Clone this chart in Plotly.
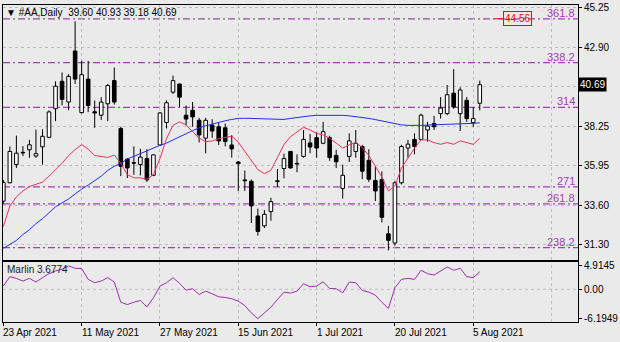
import plotly.graph_objects as go

# ---------------- data ----------------
dates = ["2021-04-23","2021-04-26","2021-04-27","2021-04-28","2021-04-29","2021-04-30",
         "2021-05-03","2021-05-04","2021-05-05","2021-05-06","2021-05-07","2021-05-10","2021-05-11",
         "2021-05-12","2021-05-13","2021-05-14","2021-05-17","2021-05-18","2021-05-19","2021-05-20",
         "2021-05-21","2021-05-24","2021-05-25","2021-05-26","2021-05-27","2021-05-28","2021-06-01",
         "2021-06-02","2021-06-03","2021-06-04","2021-06-07","2021-06-08","2021-06-09","2021-06-10",
         "2021-06-11","2021-06-14","2021-06-15","2021-06-16","2021-06-17","2021-06-18","2021-06-21",
         "2021-06-22","2021-06-23","2021-06-24","2021-06-25","2021-06-28","2021-06-29","2021-06-30",
         "2021-07-01","2021-07-02","2021-07-06","2021-07-07","2021-07-08","2021-07-09","2021-07-12",
         "2021-07-13","2021-07-14","2021-07-15","2021-07-16","2021-07-19","2021-07-20","2021-07-21",
         "2021-07-22","2021-07-23","2021-07-26","2021-07-27","2021-07-28","2021-07-29","2021-07-30",
         "2021-08-02","2021-08-03","2021-08-04","2021-08-05","2021-08-06"]

opens = [33.85, 34.93, 36.00, 36.72, 36.87, 36.50, 37.04, 37.60, 39.28, 40.89,
         39.67, 42.67, 39.05, 41.02, 39.10, 38.90, 39.57, 40.93, 38.12, 36.32,
         36.10, 36.00, 36.35, 35.37, 37.15, 38.47, 40.25, 40.73, 38.90, 39.19,
         38.60, 37.55, 38.32, 38.22, 38.16, 37.15, 36.15, 35.10, 35.02, 32.98,
         32.40, 33.24, 35.00, 35.77, 36.77, 36.03, 36.48, 37.27, 37.58, 37.25,
         37.58, 36.54, 34.60, 36.48, 36.77, 37.06, 36.25, 35.07, 35.12, 31.93,
         31.39, 34.93, 36.97, 37.48, 37.48, 38.03, 38.41, 38.99, 38.99, 40.19,
         38.99, 39.77, 38.47, 39.60]
highs = [35.10, 37.06, 37.70, 37.08, 37.45, 38.05, 38.08, 39.18, 40.89, 41.41,
         41.31, 44.41, 42.09, 42.09, 39.76, 39.96, 40.73, 41.70, 38.22, 36.37,
         37.06, 36.93, 36.90, 36.60, 39.09, 39.77, 41.22, 40.75, 39.47, 39.67,
         38.74, 38.74, 38.66, 38.45, 38.41, 37.73, 36.20, 35.65, 35.12, 33.41,
         33.33, 34.05, 35.74, 36.64, 36.80, 36.60, 38.03, 37.80, 37.89, 38.51,
         37.69, 36.87, 36.00, 37.83, 38.03, 37.16, 36.90, 35.89, 35.60, 32.40,
         35.02, 37.16, 37.45, 37.83, 38.99, 38.51, 38.86, 39.96, 40.67, 41.60,
         40.54, 39.96, 39.38, 40.93]
lows = [33.70, 34.90, 35.80, 36.50, 36.40, 36.40, 35.99, 37.55, 38.55, 39.48,
        39.19, 40.73, 39.00, 39.08, 38.16, 38.62, 38.55, 39.52, 35.32, 35.21,
        35.40, 35.36, 34.98, 35.32, 37.10, 38.12, 40.15, 39.38, 38.30, 38.22,
        37.30, 36.66, 37.57, 37.15, 37.07, 36.41, 34.45, 34.45, 32.57, 31.82,
        32.27, 32.70, 34.69, 35.19, 35.77, 35.55, 36.40, 36.66, 36.40, 37.20,
        36.22, 35.80, 34.00, 36.15, 36.40, 35.14, 34.98, 33.86, 32.60, 30.96,
        31.25, 34.83, 36.40, 36.60, 37.45, 37.35, 38.03, 38.70, 38.90, 39.28,
        37.97, 38.51, 38.22, 39.18]
closes = [34.95, 36.77, 36.67, 36.68, 37.16, 36.64, 37.66, 39.09, 40.60, 39.83,
          41.18, 41.02, 41.28, 39.47, 39.03, 39.67, 40.64, 39.67, 35.90, 35.80,
          36.08, 36.44, 35.10, 36.57, 39.03, 39.63, 40.93, 39.96, 38.67, 38.80,
          37.74, 38.60, 37.97, 37.39, 37.35, 36.92, 36.05, 35.05, 33.57, 32.07,
          33.08, 33.82, 35.05, 36.35, 35.80, 36.07, 37.48, 37.03, 36.97, 37.93,
          36.41, 36.16, 35.37, 37.39, 37.25, 35.61, 35.14, 34.45, 32.90, 31.55,
          34.93, 37.06, 37.20, 37.06, 38.90, 38.26, 38.22, 39.32, 40.10, 39.38,
          40.38, 38.70, 38.70, 40.69]

ma_red = [32.36, 33.57, 34.10, 34.45, 34.71, 34.82, 34.97, 35.32, 35.69, 36.07,
          36.53, 36.88, 37.17, 36.91, 36.53, 36.48, 36.42, 36.56, 36.07, 35.41,
          35.22, 35.22, 35.13, 35.41, 36.36, 37.52, 38.30, 38.51, 38.33, 37.93,
          37.55, 37.35, 37.38, 37.52, 37.61, 37.67, 37.32, 36.77, 36.19, 35.70,
          35.47, 35.66, 36.42, 37.17, 37.64, 37.93, 38.19, 38.03, 37.83, 37.74,
          37.54, 37.26, 36.97, 37.16, 37.29, 37.00, 36.53, 35.90, 35.26, 34.45,
          34.74, 35.80, 36.38, 36.96, 37.45, 37.45, 37.29, 37.19, 37.29, 37.19,
          37.39, 37.29, 37.19, 37.54]
ma_blue = [31.08, 31.31, 31.54, 31.89, 32.18, 32.53, 32.82, 33.17, 33.52, 33.75,
           33.98, 34.27, 34.56, 34.79, 35.03, 35.32, 35.66, 35.90, 36.07, 36.33,
           36.48, 36.65, 36.80, 36.97, 37.13, 37.26, 37.43, 37.61, 37.81, 37.99,
           38.16, 38.28, 38.39, 38.48, 38.57, 38.65, 38.71, 38.72, 38.71, 38.69,
           38.67, 38.66, 38.66, 38.65, 38.71, 38.77, 38.82, 38.86, 38.89, 38.90,
           38.90, 38.90, 38.89, 38.86, 38.82, 38.77, 38.71, 38.64, 38.57, 38.48,
           38.39, 38.33, 38.30, 38.28, 38.30, 38.32, 38.33, 38.35, 38.35, 38.35,
           38.36, 38.39, 38.42, 38.45]
marlin = [0.67, 2.65, 2.30, 1.73, 2.30, 1.52, 2.44, 3.29, 3.85, 4.20,
          4.9145, 4.42, 4.35, 2.08, 1.38, 1.73, 2.44, 1.52, -2.72, -3.22,
          -2.72, -2.37, -3.71, -1.80, 0.67, 1.38, 2.44, 1.24, -0.18, 0.11,
          -1.10, -0.39, -0.95, -1.59, -1.73, -2.01, -2.51, -3.43, -4.98, -6.1949,
          -4.98, -3.78, -2.16, -0.60, -0.81, -0.39, 1.17, 0.53, 0.67, 1.59,
          0.18, 0.11, -0.74, 1.52, 1.38, -0.25, -0.60, -1.24, -2.72, -4.06,
          0.32, 2.08, 2.30, 2.08, 3.99, 3.29, 3.00, 3.85, 4.70, 3.99,
          4.42, 2.65, 2.44, 3.6774]

fib_levels = [44.56, 41.99, 39.36, 34.69, 33.69, 31.12]
fib_labels = ["361.8", "338.2", "314", "271", "261.8", "238.2"]
target_label = "44.56"
target_price = 44.56

price_ticks = [45.25, 42.90, 40.58, 38.25, 35.95, 33.60, 31.30]
price_tick_labels = ["45.25", "42.90", "", "38.25", "35.95", "33.60", "31.30"]
marlin_ticks = [4.9145, 0.0, -6.1949]
marlin_tick_labels = ["4.9145", "0.00", "-6.1949"]
date_tick_idx = [0, 12, 24, 36, 48, 60, 72]
date_tick_labels = ["23 Apr 2021", "11 May 2021", "27 May 2021", "15 Jun 2021",
                    "1 Jul 2021", "20 Jul 2021", "5 Aug 2021"]
grid_idx = [0, 12, 24, 36, 48, 60, 72, 84]

header = "▼ #AA,Daily&nbsp;&nbsp;39.60 40.93 39.18 40.69"
last_price = closes[-1]

# ---------------- styles ----------------
BG = "#EAEAEA"
GRID = "#BDBDBD"
FIB = "#A040B0"
FONT = "Liberation Sans, Arial, sans-serif"

idx = list(range(len(closes)))
bases = [min(o, c) for o, c in zip(opens, closes)]
heights = [max(abs(c - o), 0.03) for o, c in zip(opens, closes)]
colors = ["#FFFFFF" if c >= o else "#000000" for o, c in zip(opens, closes)]

wx, wy = [], []
for i, o, h, l, c in zip(idx, opens, highs, lows, closes):
    top, bot = max(o, c), min(o, c)
    wx += [i, i, None, i, i, None]
    wy += [h, top, None, bot, l, None]

fig = go.Figure()
fig.add_trace(go.Bar(x=idx, y=heights, base=bases, width=0.55,
                     marker=dict(color=colors, line=dict(color="#000000", width=1)),
                     xaxis="x", yaxis="y", hoverinfo="skip"))
fig.add_trace(go.Scatter(x=wx, y=wy, mode="lines", line=dict(color="#000000", width=1),
                         xaxis="x", yaxis="y", hoverinfo="skip"))
fig.add_trace(go.Scatter(x=idx, y=ma_blue, mode="lines", line=dict(color="#1E2CF0", width=1),
                         xaxis="x", yaxis="y"))
fig.add_trace(go.Scatter(x=idx, y=ma_red, mode="lines", line=dict(color="#E8325A", width=1),
                         xaxis="x", yaxis="y"))
fig.add_trace(go.Scatter(x=idx, y=marlin, mode="lines", line=dict(color="#A02CB0", width=1),
                         xaxis="x2", yaxis="y2"))

shapes = []
for lvl in fib_levels:
    shapes.append(dict(type="line", xref="paper", x0=0, x1=1, yref="y", y0=lvl, y1=lvl,
                       line=dict(color=FIB, width=1.3, dash="7px,3px,2px,3px"), layer="between"))
shapes.append(dict(type="line", xref="paper", x0=0, x1=1, yref="y2", y0=0, y1=0,
                   line=dict(color=GRID, width=1, dash="dot"), layer="between"))
shapes.append(dict(type="line", xref="x2", x0=grid_idx[-1], x1=grid_idx[-1], yref="paper", y0=0, y1=0.1906,
                   line=dict(color=GRID, width=1, dash="dot"), layer="below"))
shapes.append(dict(type="line", xref="x", x0=75.2, x1=76.5, yref="y", y0=target_price, y1=target_price,
                   line=dict(color="#FF0000", width=1)))

annotations = []
for lvl, lab in zip(fib_levels, fib_labels):
    annotations.append(dict(text=lab, xref="paper", x=1, xanchor="right", xshift=-1,
                            yref="y", y=lvl, yanchor="bottom", yshift=-2, showarrow=False,
                            font=dict(family=FONT, size=11, color=FIB)))
annotations.append(dict(text=target_label, xref="x", x=76.5, xanchor="left",
                        yref="y", y=target_price, yanchor="middle", showarrow=False,
                        font=dict(family=FONT, size=10, color="#FF0000"),
                        bordercolor="#FF0000", borderwidth=1, borderpad=1))
annotations.append(dict(text=f"{last_price:.2f}", xref="paper", x=1, xanchor="left",
                        yref="y", y=last_price, yanchor="middle", showarrow=False,
                        font=dict(family=FONT, size=10, color="#FFFFFF"),
                        bgcolor="#000000", borderpad=1))
annotations.append(dict(text=header, xref="paper", x=0, xanchor="left", xshift=1,
                        yref="paper", y=1, yanchor="top", showarrow=False,
                        font=dict(family=FONT, size=10, color="#000000")))
annotations.append(dict(text=f"Marlin {marlin[-1]:.4f}", xref="paper", x=0, xanchor="left", xshift=2,
                        yref="paper", y=0.1906, yanchor="top", showarrow=False,
                        font=dict(family=FONT, size=10, color="#222222")))
for i, lab in zip(date_tick_idx, date_tick_labels):
    annotations.append(dict(text=lab, xref="x2", x=i, xanchor="left", xshift=-2,
                            yref="paper", y=0, yanchor="top", yshift=-3, showarrow=False,
                            font=dict(family=FONT, size=10, color="#000000")))

xrange = [-0.05, 88.05]
axis_common = dict(showline=True, mirror=True, linecolor="#000000", linewidth=1, zeroline=False)

fig.update_layout(
    width=620, height=342,
    margin=dict(l=2, r=40, t=2, b=20),
    paper_bgcolor=BG, plot_bgcolor=BG,
    showlegend=False,
    shapes=shapes, annotations=annotations,
    font=dict(family=FONT, size=10, color="#000000"),
    xaxis=dict(domain=[0, 1], range=xrange, anchor="y", tickvals=grid_idx, showticklabels=False,
               ticks="", showgrid=True, gridcolor=GRID, griddash="dot", gridwidth=1, **axis_common),
    yaxis=dict(domain=[0.1969, 1], range=[30.42, 45.37], anchor="x", side="right",
               tickvals=price_ticks, ticktext=price_tick_labels, ticks="outside", ticklen=3,
               tickcolor="#000000", showgrid=True, gridcolor=GRID, griddash="dot", gridwidth=1,
               ticklabeloverflow="allow",
               tickfont=dict(family=FONT, size=10, color="#000000"), **axis_common),
    xaxis2=dict(domain=[0, 1], range=xrange, anchor="y2", tickvals=date_tick_idx, showticklabels=False,
                ticks="outside", ticklen=3, tickcolor="#000000",
                showgrid=True, gridcolor=GRID, griddash="dot", gridwidth=1, **axis_common),
    yaxis2=dict(domain=[0, 0.1906], range=[-6.89, 5.83], anchor="x2", side="right",
                tickvals=marlin_ticks, ticktext=marlin_tick_labels, ticks="outside", ticklen=3,
                tickcolor="#000000", showgrid=False, ticklabeloverflow="allow",
                tickfont=dict(family=FONT, size=10, color="#000000"), **axis_common),
)

fig.write_html("out.html")
